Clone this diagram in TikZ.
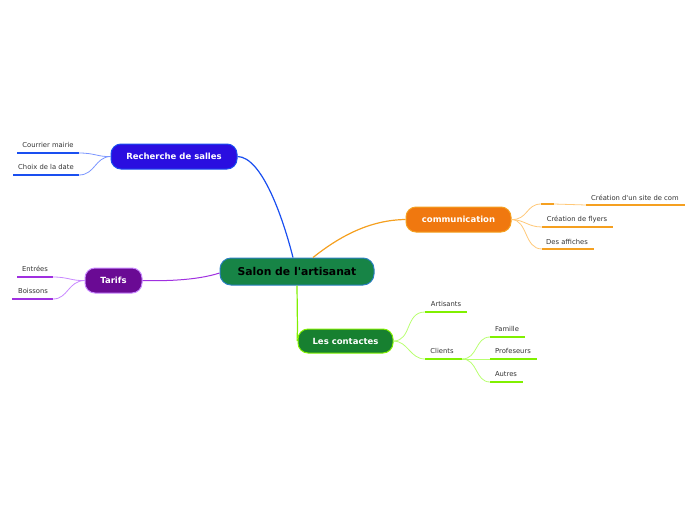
\documentclass[tikz,border=0pt]{standalone}
\usepackage{fontspec}
\setmainfont{DejaVu Sans}[Ligatures=TeXOff]
\definecolor{cgreen}{HTML}{178446}
\definecolor{cborder}{HTML}{2A7FC0}
\definecolor{bfill}{HTML}{2A0EE0}
\definecolor{bline}{HTML}{1A4FF0}
\definecolor{blight}{HTML}{7A95FF}
\definecolor{pfill}{HTML}{6A0A94}
\definecolor{pline}{HTML}{A030E0}
\definecolor{plight}{HTML}{C888FF}
\definecolor{ofill}{HTML}{F0780F}
\definecolor{oline}{HTML}{F5A020}
\definecolor{olight}{HTML}{FFC878}
\definecolor{gfill}{HTML}{178030}
\definecolor{gline}{HTML}{80F000}
\definecolor{glight}{HTML}{B8FF70}
\definecolor{leaftext}{HTML}{333333}
\tikzset{
  topic/.style={rounded corners=10pt, draw=#1, line width=1pt, text=white, font=\bfseries\fontsize{8.5}{9}\selectfont, minimum height=25pt, inner xsep=0pt},
  leaf/.style={font=\fontsize{6.8}{7}\selectfont, text=leaftext, inner sep=0pt},
  under/.style={line width=1.8pt, draw=#1},
  conn/.style={line width=0.8pt, draw=#1},
}
\begin{document}
\begin{tikzpicture}[x=1pt,y=-1pt]
\useasboundingbox (0,0) rectangle (696,520);
% central
\node[rounded corners=11pt, draw=cborder, line width=1pt, fill=cgreen, minimum width=154pt, minimum height=27pt, font=\bfseries\fontsize{10.8}{12}\selectfont, text=black] (c) at (297,271.5) {Salon de l'artisanat};
% main topics
\node[topic=bline, fill=bfill, minimum width=126pt] (rs) at (174,156.5) {Recherche de salles};
\node[topic=plight, fill=pfill, minimum width=57pt] (ta) at (113.5,280.5) {Tarifs};
\node[topic=oline, fill=ofill, minimum width=105pt] (co) at (458.5,219.5) {communication};
\node[topic=gline, fill=gfill, minimum width=95pt, minimum height=24pt] (lc) at (345.5,341) {Les contactes};
% main connectors
\draw[line width=1.2pt, bline] ([xshift=-4pt]c.north) .. controls (283,218) and (262,157) .. (rs.east);
\draw[line width=1.2pt, oline] ([xshift=16pt]c.north) .. controls (340,236) and (370,220) .. (co.west);
\draw[line width=1pt, pline] ([yshift=-1.5pt]c.west) .. controls (195,281) and (160,281) .. (ta.east);
\draw[line width=1.2pt, gline] ([xshift=0pt]c.south) -- ([xshift=-48pt,yshift=-2pt]lc.north) .. controls (297,338) and (297,341) .. (lc.west);
% Recherche leaves
\coordinate (cmL) at (17,153); \coordinate (cmR) at (79,153);
\coordinate (cdL) at (13,175); \coordinate (cdR) at (79,175);
\node[leaf] (cm) at (48,144.5) {Courrier mairie};
\node[leaf] (cd) at (46,167) {Choix de la date};
\draw[under=bline] (cmL) -- (cmR);
\draw[under=bline] (cdL) -- (cdR);
\draw[conn=blight] (rs.west) .. controls (98,157) and (95,153) .. (cmR);
\draw[conn=blight] (rs.west) .. controls (95,157) and (95,175) .. (cdR);
% Tarifs leaves
\coordinate (enL) at (17,277); \coordinate (enR) at (53,277);
\coordinate (boL) at (12,299); \coordinate (boR) at (53,299);
\node[leaf] (en) at (35,269) {Entrées};
\node[leaf] (bo) at (33,291) {Boissons};
\draw[under=pline] (enL) -- (enR);
\draw[under=pline] (boL) -- (boR);
\draw[conn=plight] (ta.west) .. controls (72,281) and (68,277) .. (enR);
\draw[conn=plight] (ta.west) .. controls (68,281) and (68,299) .. (boR);
% communication leaves
\coordinate (e1L) at (541,204); \coordinate (e1R) at (554,204);
\coordinate (siL) at (586,205); \coordinate (siR) at (685,205);
\coordinate (flL) at (542,227); \coordinate (flR) at (613,227);
\coordinate (afL) at (542,249); \coordinate (afR) at (594,249);
\node[leaf] (si) at (635,197.5) {Création d'un site de com};
\node[leaf] (fl) at (577,219.5) {Création de flyers};
\node[leaf] (af) at (567,241.5) {Des affiches};
\draw[under=oline] (e1L) -- (e1R);
\draw[under=oline] (siL) -- (siR);
\draw[under=oline] (flL) -- (flR);
\draw[under=oline] (afL) -- (afR);
\draw[conn=olight] (co.east) .. controls (528,220) and (526,204) .. (e1L);
\draw[conn=olight] (co.east) .. controls (525,220) and (528,227) .. (flL);
\draw[conn=olight] (co.east) .. controls (528,220) and (524,249) .. (afL);
\draw[conn=olight] (e1R) .. controls (570,204) and (570,205) .. (siL);
% Les contactes leaves
\coordinate (arL) at (425,312); \coordinate (arR) at (467,312);
\coordinate (clL) at (425,359); \coordinate (clR) at (462,359);
\coordinate (faL) at (490,337); \coordinate (faR) at (525,337);
\coordinate (prL) at (490,359); \coordinate (prR) at (537,359);
\coordinate (auL) at (490,382); \coordinate (auR) at (523,382);
\node[leaf] (ar) at (446,304) {Artisants};
\node[leaf] (cl) at (442,351) {Clients};
\node[leaf] (fa) at (507,329) {Famille};
\node[leaf] (pr) at (513,351) {Profeseurs};
\node[leaf] (au) at (506,374) {Autres};
\draw[under=gline] (arL) -- (arR);
\draw[under=gline] (clL) -- (clR);
\draw[under=gline] (faL) -- (faR);
\draw[under=gline] (prL) -- (prR);
\draw[under=gline] (auL) -- (auR);
\draw[conn=glight] (lc.east) .. controls (412,341) and (405,312) .. (arL);
\draw[conn=glight] (lc.east) .. controls (408,341) and (410,359) .. (clL);
\draw[conn=glight] (clR) .. controls (478,359) and (475,337) .. (faL);
\draw[conn=glight] (clR) -- (prL);
\draw[conn=glight] (clR) .. controls (478,359) and (475,382) .. (auL);
\end{tikzpicture}
\end{document}
